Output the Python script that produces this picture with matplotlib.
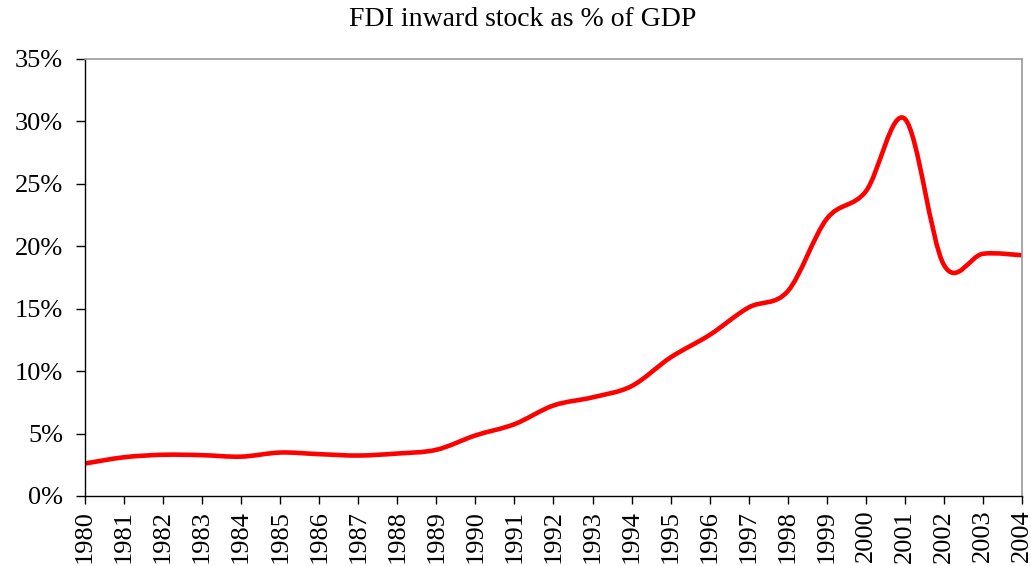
import numpy as np
import matplotlib
matplotlib.use("Agg")
import matplotlib.pyplot as plt
from matplotlib.path import Path
from matplotlib.patches import PathPatch
from matplotlib.ticker import FuncFormatter

years = list(range(1980, 2005))
fdi_share = [2.6, 3.1, 3.3, 3.27, 3.15, 3.48, 3.35, 3.24, 3.4, 3.7,
             4.85, 5.75, 7.25, 7.9, 8.8, 11.1, 12.9, 15.1, 16.4, 22.2,
             24.4, 30.2, 18.5, 19.4, 19.28]

plt.rcParams['font.family'] = ['Liberation Serif', 'DejaVu Serif']
plt.rcParams['font.size'] = 19


def smooth_path(x, y):
    # Excel style smoothed line: cubic bezier through every point
    x = np.asarray(x, float)
    y = np.asarray(y, float)
    verts = [(x[0], y[0])]
    codes = [Path.MOVETO]
    n = len(x)
    for i in range(n - 1):
        i0 = max(i - 1, 0)
        i3 = min(i + 2, n - 1)
        c1 = (x[i] + (x[i + 1] - x[i0]) / 6, y[i] + (y[i + 1] - y[i0]) / 6)
        c2 = (x[i + 1] - (x[i3] - x[i]) / 6, y[i + 1] - (y[i3] - y[i]) / 6)
        verts += [c1, c2, (x[i + 1], y[i + 1])]
        codes += [Path.CURVE4] * 3
    return Path(verts, codes)


fig = plt.figure(figsize=(10.31, 5.66), dpi=100)
ax = fig.add_axes([0.0824, 0.1237, 0.9089, 0.7721])

ax.add_patch(PathPatch(smooth_path(years, np.array(fdi_share) / 100),
                       facecolor="none", edgecolor="#ff0000", lw=3.3,
                       capstyle="round", joinstyle="round"))

ax.set_xlim(1980, 2004)
ax.set_ylim(0, 0.35)
ax.set_xticks(years)
ax.set_xticklabels([str(y) for y in years], rotation=90)
ax.set_yticks(np.arange(0, 0.36, 0.05))
ax.yaxis.set_major_formatter(FuncFormatter(lambda v, p: f"{v * 100:.0f}%"))

ax.tick_params(axis="y", direction="out", length=6.7, width=1, pad=9)
ax.tick_params(axis="x", direction="out", length=6, width=1, pad=4)

for side in ["left", "bottom"]:
    ax.spines[side].set_color("black")
    ax.spines[side].set_linewidth(1)
for side in ["top", "right"]:
    ax.spines[side].set_color("#999999")
    ax.spines[side].set_linewidth(1.2)

fig.text(0.507, 1 - 20 / 566, "FDI inward stock as % of GDP",
         ha="center", va="center", fontsize=20)

fig.savefig("out.png", dpi=100)
